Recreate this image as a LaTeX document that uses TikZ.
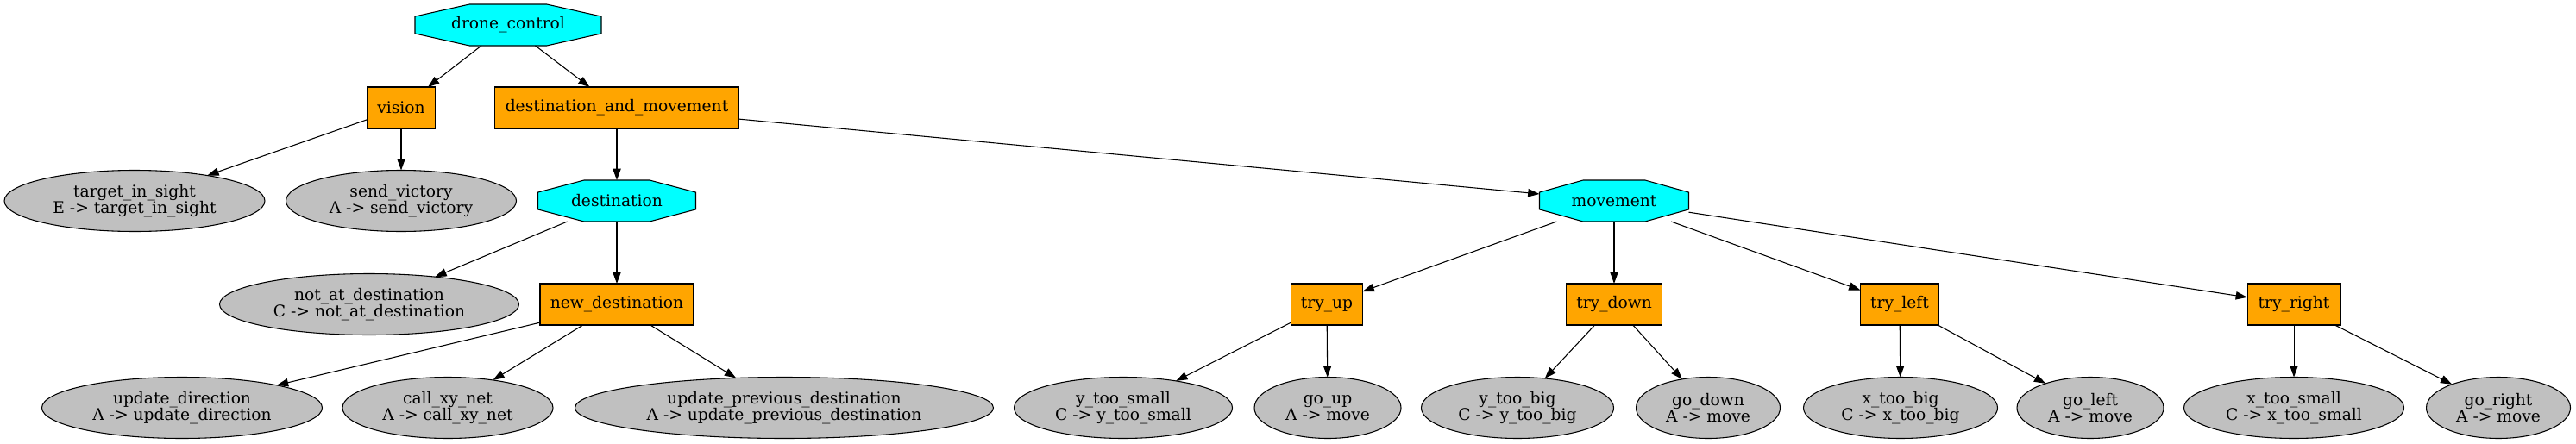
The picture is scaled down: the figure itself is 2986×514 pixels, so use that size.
\documentclass[tikz,border=0pt]{standalone}
\usepackage{fontspec}
\setmainfont{DejaVu Serif}
\usetikzlibrary{arrows.meta,backgrounds,calc,shapes.geometric}
\definecolor{gvorange}{HTML}{FFA500}
\definecolor{gvcyan}{HTML}{00FFFF}
\definecolor{gvgray}{HTML}{C0C0C0}
\newcommand{\twol}[2]{\makebox[0pt]{#1}\\\makebox[0pt]{#2}}
\newcommand{\octdraw}[1]{\path[octshape] ($(#1.north west)!0.2929!(#1.north east)$) -- ($(#1.north west)!0.7071!(#1.north east)$) -- ($(#1.north east)!0.2929!(#1.south east)$) -- ($(#1.north east)!0.7071!(#1.south east)$) -- ($(#1.south west)!0.7071!(#1.south east)$) -- ($(#1.south west)!0.2929!(#1.south east)$) -- ($(#1.north west)!0.7071!(#1.south west)$) -- ($(#1.north west)!0.2929!(#1.south west)$) -- cycle;}
\tikzset{
  base/.style={inner sep=0pt, outer sep=0pt, font=\fontsize{14}{14.5}\selectfont, align=center, line width=0.8pt},
  w/.style={minimum width=#1*0.75pt},
  box/.style={base, rectangle, draw=black, fill=gvorange, minimum height=36pt},
  leaf/.style={base, ellipse, draw=black, fill=gvgray, minimum height=53.25pt},
  octa/.style={base, rectangle, minimum height=36pt},
  octshape/.style={draw=black, fill=gvcyan, line width=0.8pt},
  edge/.style={draw=black, line width=0.8pt, -{Triangle[length=10pt,width=7pt]}}
}
\begin{document}
\begin{tikzpicture}[x=0.75pt, y=-0.75pt]
\useasboundingbox (0,0) rectangle (2986,514);
% row 1
\node[octa, w=216] (dc) at (589,29) {drone\_control};
% row 2
\node[box, w=79] (vision) at (465,125) {vision};
\node[box, w=283] (dam) at (715,125) {destination\_and\_movement};
% row 3
\node[leaf, w=302] (tis) at (156,233) {\twol{target\_in\_sight}{E -> target\_in\_sight}};
\node[leaf, w=267] (sv) at (465,233) {\twol{send\_victory}{A -> send\_victory}};
\node[octa, w=183] (dest) at (715,233) {destination};
\node[octa, w=173] (mov) at (1871,233) {movement};
% row 4
\node[leaf, w=347] (nad) at (428,353) {\twol{not\_at\_destination}{C -> not\_at\_destination}};
\node[box, w=178] (nd) at (715,353) {new\_destination};
\node[box, w=83] (tup) at (1538,353) {try\_up};
\node[box, w=111] (tdown) at (1871,353) {try\_down};
\node[box, w=91] (tleft) at (2202,353) {try\_left};
\node[box, w=108] (tright) at (2659,353) {try\_right};
% row 5
\node[leaf, w=325] (ud) at (211,473) {\twol{update\_direction}{A -> update\_direction}};
\node[leaf, w=244] (cxn) at (519,473) {\twol{call\_xy\_net}{A -> call\_xy\_net}};
\node[leaf, w=485] (upd) at (909,473) {\twol{update\_previous\_destination}{A -> update\_previous\_destination}};
\node[leaf, w=253] (yts) at (1302,473) {\twol{y\_too\_small}{C -> y\_too\_small}};
\node[leaf, w=170] (goup) at (1539,473) {\twol{go\_up}{A -> move}};
\node[leaf, w=223] (ytb) at (1759,473) {\twol{y\_too\_big}{C -> y\_too\_big}};
\node[leaf, w=167] (godown) at (1980,473) {\twol{go\_down}{A -> move}};
\node[leaf, w=225] (xtb) at (2203,473) {\twol{x\_too\_big}{C -> x\_too\_big}};
\node[leaf, w=170] (goleft) at (2423,473) {\twol{go\_left}{A -> move}};
\node[leaf, w=255] (xts) at (2659,473) {\twol{x\_too\_small}{C -> x\_too\_small}};
\node[leaf, w=167] (goright) at (2896,473) {\twol{go\_right}{A -> move}};
% octagon outlines
\begin{pgfonlayer}{background}
\octdraw{dc}
\octdraw{dest}
\octdraw{mov}
\end{pgfonlayer}
% edges
\draw[edge] (dc) -- (vision);
\draw[edge] (dc) -- (dam);
\draw[edge] (vision) -- (tis);
\draw[edge] (vision) -- (sv);
\draw[edge] (dam) -- (dest);
\draw[edge] (dam) -- (mov);
\draw[edge] (dest) -- (nad);
\draw[edge] (dest) -- (nd);
\draw[edge] (nd) -- (ud);
\draw[edge] (nd) -- (cxn);
\draw[edge] (nd) -- (upd);
\draw[edge] (mov) -- (tup);
\draw[edge] (mov) -- (tdown);
\draw[edge] (mov) -- (tleft);
\draw[edge] (mov) -- (tright);
\draw[edge] (tup) -- (yts);
\draw[edge] (tup) -- (goup);
\draw[edge] (tdown) -- (ytb);
\draw[edge] (tdown) -- (godown);
\draw[edge] (tleft) -- (xtb);
\draw[edge] (tleft) -- (goleft);
\draw[edge] (tright) -- (xts);
\draw[edge] (tright) -- (goright);
\end{tikzpicture}
\end{document}
